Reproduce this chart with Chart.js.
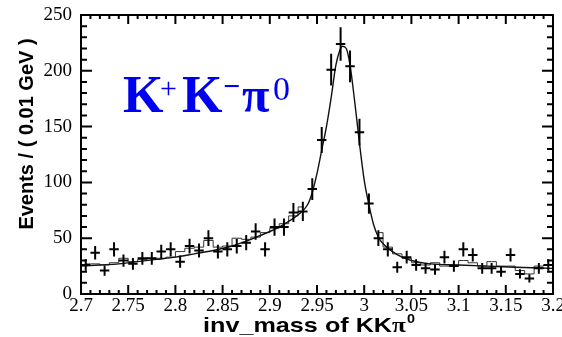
<!DOCTYPE html>
<html>
<head>
<meta charset="utf-8">
<script src="https://cdn.jsdelivr.net/npm/chart.js@4.4.1/dist/chart.umd.min.js"></script>
<style>
  html, body { margin: 0; padding: 0; background: #fff; }
  #wrap { width: 562px; height: 337px; position: relative; }
</style>
</head>
<body>
<div id="wrap"><canvas id="massChart"></canvas></div>
<script>
// bin centres (0.01 GeV bins)
const binCenters = [2.705, 2.715, 2.725, 2.735, 2.745, 2.755, 2.765, 2.775, 2.785, 2.795,
  2.805, 2.815, 2.825, 2.835, 2.845, 2.855, 2.865, 2.875, 2.885, 2.895,
  2.905, 2.915, 2.925, 2.935, 2.945, 2.955, 2.965, 2.975, 2.985, 2.995,
  3.005, 3.015, 3.025, 3.035, 3.045, 3.055, 3.065, 3.075, 3.085, 3.095,
  3.105, 3.115, 3.125, 3.135, 3.145, 3.155, 3.165, 3.175, 3.185, 3.195];

// measured events per bin
const counts = [26, 37, 21, 40, 30, 27, 32, 32, 38, 40,
  29, 43, 39, 50, 38, 40, 43, 46, 56, 40,
  60, 60, 73, 74, 94, 138, 201, 224, 204, 145,
  81, 50, 40, 24, 33, 26, 23, 22, 33, 25,
  40, 35, 23, 23, 20, 35, 18, 14, 23, 26];

const errors = [5.1, 6.1, 4.6, 6.3, 5.5, 5.2, 5.7, 5.7, 6.2, 6.3,
  5.4, 6.6, 6.2, 7.1, 6.2, 6.3, 6.6, 6.8, 7.5, 6.3,
  7.7, 7.7, 8.5, 8.6, 9.7, 11.7, 14.2, 15.0, 14.3, 12.0,
  9.0, 7.1, 6.3, 4.9, 5.7, 5.1, 4.8, 4.7, 5.7, 5.0,
  6.3, 5.9, 4.8, 4.8, 4.5, 5.9, 4.2, 3.7, 4.8, 5.1];

// binned shape (thin step line), hidden under the peak
const histValues = [27, 27, 26, 28, 32, 29, 31, 32, 32, 33,
  38, 41, 42, 48, 42, 43, 50, 49, 51, 55,
  59, 63, 70, 78, null, null, null, null, null, null,
  null, 55, 42, 36, 32, 28, 26, 28, 25, 25,
  30, 28, 25, 29, 25, 25, 21, 18, 25, 26];

// fit curve
const fitX = [2.70, 2.72, 2.74, 2.76, 2.78, 2.80, 2.82, 2.84, 2.86, 2.88,
  2.90, 2.91, 2.92, 2.93, 2.94, 2.945, 2.95, 2.955, 2.96, 2.965,
  2.97, 2.974, 2.977, 2.981, 2.985, 2.99, 2.995, 3.00, 3.005, 3.01,
  3.015, 3.02, 3.03, 3.04, 3.05, 3.07, 3.10, 3.13, 3.16, 3.20];
const fitY = [25, 26, 27, 29, 31, 33, 36, 39, 43, 49,
  56, 60, 65, 71, 80, 91, 108, 129, 150, 176,
  205, 218, 222, 220, 205, 172, 135, 102, 80, 62,
  51, 45, 38, 33, 30, 27, 26, 25, 24, 23];

const binHalf = 0.005;

const pts = (xs, ys) => xs.map((x, i) => ({ x: x, y: ys[i] }));

// error-bar crosses
const crossPlugin = {
  id: 'crosses',
  afterDatasetsDraw(chart) {
    const ctx = chart.ctx, xs = chart.scales.x, ys = chart.scales.y;
    ctx.save();
    ctx.strokeStyle = '#000';
    ctx.lineWidth = 2;
    ctx.beginPath();
    binCenters.forEach((x, i) => {
      const px = xs.getPixelForValue(x);
      const py = ys.getPixelForValue(counts[i]);
      ctx.moveTo(xs.getPixelForValue(x - binHalf), py);
      ctx.lineTo(xs.getPixelForValue(x + binHalf), py);
      ctx.moveTo(px, ys.getPixelForValue(counts[i] - errors[i]));
      ctx.lineTo(px, ys.getPixelForValue(counts[i] + errors[i]));
    });
    ctx.stroke();
    ctx.restore();
  }
};

// ROOT-like frame with inward ticks, titles and label
const framePlugin = {
  id: 'frame',
  afterDraw(chart) {
    const ctx = chart.ctx, a = chart.chartArea;
    const xs = chart.scales.x, ys = chart.scales.y;
    ctx.save();
    ctx.strokeStyle = '#000';
    ctx.lineWidth = 2;
    ctx.strokeRect(a.left, a.top, a.right - a.left, a.bottom - a.top);
    ctx.beginPath();
    for (let k = 0; k <= 50; k++) {
      const px = xs.getPixelForValue(2.7 + k * 0.01);
      const len = k % 5 === 0 ? 9 : 4;
      ctx.moveTo(px, a.bottom); ctx.lineTo(px, a.bottom - len);
      ctx.moveTo(px, a.top); ctx.lineTo(px, a.top + len);
    }
    for (let k = 0; k <= 25; k++) {
      const py = ys.getPixelForValue(k * 10);
      const len = k % 5 === 0 ? 11 : 6;
      ctx.moveTo(a.left, py); ctx.lineTo(a.left + len, py);
      ctx.moveTo(a.right, py); ctx.lineTo(a.right - len, py);
    }
    ctx.stroke();

    // y title
    ctx.fillStyle = '#000';
    ctx.save();
    ctx.translate(33, 134);
    ctx.rotate(-Math.PI / 2);
    ctx.font = 'bold 20px "Liberation Sans", Arial, sans-serif';
    ctx.textAlign = 'center';
    ctx.fillText('Events / ( 0.01 GeV )', 0, 0);
    ctx.restore();

    // x title
    ctx.save();
    ctx.translate(203, 332);
    ctx.scale(1.2, 1);
    ctx.textAlign = 'left';
    let x = 0;
    ctx.font = 'bold 21px "Liberation Sans", Arial, sans-serif';
    ctx.fillText('inv_mass of KK', x, 0);
    x += ctx.measureText('inv_mass of KK').width;
    ctx.font = 'bold 21px "Liberation Serif", serif';
    ctx.fillText('\u03c0', x, 0);
    x += ctx.measureText('\u03c0').width + 1;
    ctx.font = 'bold 12px "Liberation Sans", Arial, sans-serif';
    ctx.fillText('0', x, -9);
    ctx.restore();

    // blue channel label
    ctx.fillStyle = '#0000f0';
    ctx.textAlign = 'left';
    ctx.font = 'bold 52px "Liberation Serif", serif';
    ctx.fillText('K', 123, 112);
    ctx.fillText('K', 182, 112);
    ctx.font = '30px "Liberation Serif", serif';
    ctx.fillText('+', 160, 98);
    ctx.font = 'bold 30px "Liberation Serif", serif';
    ctx.fillText('\u2212', 223, 96);
    ctx.font = 'bold 50px "Liberation Serif", serif';
    ctx.fillText('\u03c0', 242, 112);
    ctx.font = '34px "Liberation Serif", serif';
    ctx.fillText('0', 273, 100);
    ctx.restore();
  }
};

new Chart(document.getElementById('massChart'), {
  type: 'scatter',
  data: {
    datasets: [
      {
        type: 'line',
        label: 'fit',
        data: pts(fitX, fitY),
        borderColor: '#111',
        borderWidth: 1.4,
        pointRadius: 0,
        cubicInterpolationMode: 'monotone',
        fill: false
      },
      {
        type: 'line',
        label: 'binned',
        data: pts(binCenters, histValues),
        borderColor: '#333',
        borderWidth: 1,
        pointRadius: 0,
        stepped: 'middle',
        spanGaps: false,
        fill: false
      },
      {
        label: 'data',
        data: pts(binCenters, counts),
        pointRadius: 0,
        showLine: false
      }
    ]
  },
  options: {
    responsive: true,
    maintainAspectRatio: false,
    animation: false,
    devicePixelRatio: 1,
    layout: { padding: { top: 15, right: 9, left: 0, bottom: 0 } },
    plugins: {
      legend: { display: false },
      tooltip: { enabled: false }
    },
    scales: {
      x: {
        type: 'linear',
        min: 2.7,
        max: 3.2,
        grid: { display: false, drawTicks: false },
        border: { display: false },
        ticks: {
          stepSize: 0.05,
          padding: 1,
          color: '#000',
          maxRotation: 0,
          autoSkip: false,
          font: { family: '"Liberation Serif", serif', size: 19 },
          callback: v => String(+Number(v).toFixed(2))
        },
        afterFit(scale) {
          scale.height = 43;
          scale.paddingLeft = 0;
          scale.paddingRight = 0;
        }
      },
      y: {
        min: 0,
        max: 250,
        grid: { display: false, drawTicks: false },
        border: { display: false },
        ticks: {
          stepSize: 50,
          padding: 9,
          color: '#000',
          font: { family: '"Liberation Serif", serif', size: 19 }
        },
        afterFit(scale) {
          scale.width = 81;
          scale.paddingTop = 0;
          scale.paddingBottom = 0;
        }
      }
    }
  },
  plugins: [crossPlugin, framePlugin]
});
</script>
</body>
</html>
